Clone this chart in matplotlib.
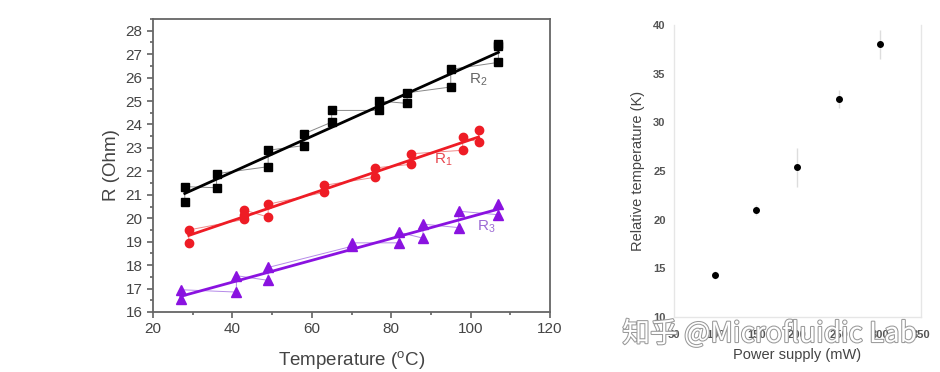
import numpy as np
import matplotlib
matplotlib.use("Agg")
import matplotlib.pyplot as plt
from matplotlib.ticker import MultipleLocator
import matplotlib.patheffects as pe

plt.rcParams['font.family'] = ['Liberation Sans', 'DejaVu Sans']
plt.rcParams['mathtext.fontset'] = 'custom'
plt.rcParams['mathtext.rm'] = 'Liberation Sans'
plt.rcParams['mathtext.it'] = 'Liberation Sans'

# left panel: resistance vs temperature, measured in sequence
r2_temp = [28, 28, 36, 36, 49, 49, 58, 58, 65, 65, 77, 77, 84, 84, 95, 95, 107, 107, 107]
r2_ohm = [20.7, 21.35, 21.3, 21.9, 22.2, 22.9, 23.1, 23.6, 24.1, 24.6,
          24.6, 25.0, 24.9, 25.35, 25.6, 26.35, 26.65, 27.35, 27.45]

r1_temp = [29, 29, 43, 43, 43, 49, 49, 63, 63, 76, 76, 85, 85, 98, 98, 102, 102]
r1_ohm = [18.95, 19.5, 19.95, 20.15, 20.35, 20.05, 20.6, 21.1, 21.4,
          21.75, 22.15, 22.3, 22.75, 22.9, 23.45, 23.25, 23.75]

r3_temp = [27, 27, 41, 41, 49, 49, 70, 70, 82, 82, 88, 88, 97, 97, 107, 107]
r3_ohm = [16.55, 16.95, 16.85, 17.55, 17.35, 17.9, 18.8, 18.95, 18.95, 19.4,
          19.15, 19.75, 19.6, 20.3, 20.15, 20.6]

# right panel: relative temperature vs power supply
power_mw = [100, 150, 200, 250, 300]
rel_temp = [14.3, 21.0, 25.4, 32.4, 38.0]
rel_err = [0.4, 0.5, 2.0, 0.9, 1.5]

fig = plt.figure(figsize=(9.4, 3.72), dpi=100)

ax = fig.add_axes([0.1628, 0.1613, 0.4223, 0.7876])


def series(ax, t, r, color, thin, marker, ms, label, lx, ly, lcolor):
    t = np.asarray(t, float)
    r = np.asarray(r, float)
    ax.plot(t, r, '-', color=thin, lw=0.7, zorder=2)
    ax.plot(t, r, linestyle='', marker=marker, color=color, ms=ms, zorder=3)
    k, b = np.polyfit(t, r, 1)
    xs = np.array([t.min(), t.max()])
    ax.plot(xs, k * xs + b, '-', color=color, lw=2.0, zorder=4)
    ax.text(lx, ly, label, color=lcolor, fontsize=11, ha='center', va='center')


series(ax, r2_temp, r2_ohm, 'black', '#888888', 's', 5.5, 'R$_2$', 102, 25.9, '#666666')
series(ax, r1_temp, r1_ohm, '#ee1c25', '#f08a8a', 'o', 6, 'R$_1$', 93, 22.5, '#e8474f')
series(ax, r3_temp, r3_ohm, '#8a12e0', '#b58ae8', '^', 6.5, 'R$_3$', 104, 19.65, '#9c6ad4')

ax.set_xlim(20, 120)
ax.set_ylim(16, 28.5)
ax.xaxis.set_major_locator(MultipleLocator(20))
ax.xaxis.set_minor_locator(MultipleLocator(10))
ax.yaxis.set_major_locator(MultipleLocator(1))
ax.yaxis.set_minor_locator(MultipleLocator(0.5))
ax.tick_params(which='both', direction='out', color='#555555', labelcolor='#444444',
               labelsize=11, width=1.1)
ax.tick_params(which='major', length=4)
ax.tick_params(which='minor', length=2.5)
for s in ax.spines.values():
    s.set_color('#666666')
    s.set_linewidth(1.3)
ax.set_xlabel('Temperature ($^\\mathregular{o}$C)', fontsize=13.5, color='#444444', labelpad=9)
ax.set_ylabel('R (Ohm)', fontsize=13.5, color='#444444', labelpad=4)

ax2 = fig.add_axes([0.717, 0.1478, 0.2628, 0.785])
ax2.errorbar(power_mw, rel_temp, yerr=rel_err, fmt='o', color='black', ms=4,
             ecolor='#dddddd', elinewidth=1.0, capsize=0)
ax2.set_xlim(50, 350)
ax2.set_ylim(10, 40)
ax2.set_xticks([50, 100, 150, 200, 250, 300, 350])
ax2.set_yticks([10, 15, 20, 25, 30, 35, 40])
ax2.tick_params(axis='y', length=0, labelsize=8, labelcolor='#555555', pad=6)
ax2.tick_params(axis='x', length=0, labelsize=8, labelcolor='#555555', pad=9)
for lbl in ax2.get_xticklabels() + ax2.get_yticklabels():
    lbl.set_fontweight('bold')
ax2.spines['top'].set_visible(False)
for side in ('left', 'right', 'bottom'):
    ax2.spines[side].set_color('#e6e6e6')
    ax2.spines[side].set_linewidth(1.0)
ax2.set_xlabel('Power supply (mW)', fontsize=10.5, color='#444444', labelpad=6)
ax2.set_ylabel('Relative temperature (K)', fontsize=10.5, color='#444444', labelpad=6)

# watermark
fig.text(0.662, 0.102, '知乎 @Microfluidic Lab', fontsize=20, color='white',
         family=['Noto Sans CJK SC', 'DejaVu Sans'], ha='left', va='center',
         path_effects=[pe.withStroke(linewidth=1.5, foreground='#999999')])

fig.savefig('out.png', dpi=100)
